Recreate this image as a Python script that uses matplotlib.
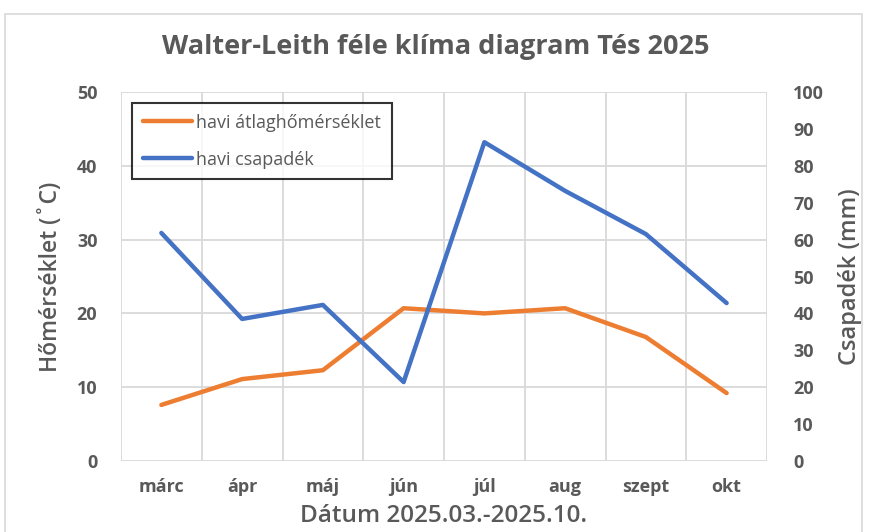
import numpy as np
import matplotlib.pyplot as plt
from matplotlib.patches import Rectangle

# data
honapok = ["márc", "ápr", "máj", "jún", "júl", "aug", "szept", "okt"]
homerseklet = [7.6, 11.1, 12.3, 20.7, 20.0, 20.7, 16.8, 9.2]    # °C
csapadek = [61.8, 38.5, 42.3, 21.4, 86.4, 73.2, 61.5, 42.8]     # mm

plt.rcParams['font.family'] = ['Open Sans', 'DejaVu Sans']
szurke = "#595959"

fig = plt.figure(figsize=(8.72, 5.32), dpi=100)
ax = fig.add_axes([121/872, 1-461/532, 646/872, 369/532])
ax2 = ax.twinx()

# outer chart border
fig.patches.append(Rectangle((5/872, -0.01), 857/872, 1-14/532+0.01,
    transform=fig.transFigure, fill=False, edgecolor="#d9d9d9", lw=1.2))

x = np.arange(len(honapok))
l1, = ax.plot(x, homerseklet, color="#ED7D31", lw=3.2, solid_capstyle="round",
    label="havi átlaghőmérséklet", zorder=3)
l2, = ax2.plot(x, csapadek, color="#4472C4", lw=3.2, solid_capstyle="round",
    label="havi csapadék", zorder=3)

ax.set_xlim(-0.5, len(honapok)-0.5)
ax.set_ylim(0, 50)
ax2.set_ylim(0, 100)
ax.set_yticks(np.arange(0, 51, 10))
ax2.set_yticks(np.arange(0, 101, 10))
ax.set_xticks(x)
ax.set_xticklabels(honapok)

# grid: horizontal at left ticks, vertical between categories
for yv in np.arange(0, 51, 10):
    ax.axhline(yv, color="#d9d9d9", lw=1.3, zorder=0)
for xv in np.arange(-0.5, len(honapok), 1):
    ax.axvline(xv, color="#d9d9d9", lw=1.3, zorder=0)

for a in (ax, ax2):
    for s in a.spines.values():
        s.set_visible(False)
    a.tick_params(length=0, labelsize=13, labelcolor=szurke)
    for lab in a.get_yticklabels() + a.get_xticklabels():
        lab.set_fontweight("bold")
ax.tick_params(axis="x", pad=12)
ax.tick_params(axis="y", pad=17)
ax2.tick_params(axis="y", pad=19)

ax.set_ylabel("Hőmérséklet (˚C)", fontsize=16.5, color=szurke,
    fontweight="semibold", labelpad=10)
ax2.set_ylabel("Csapadék (mm)", fontsize=17, color=szurke,
    fontweight="semibold", labelpad=10)
ax.set_xlabel("Dátum 2025.03.-2025.10.", fontsize=17.5, color=szurke,
    fontweight="semibold", labelpad=6)
fig.text(0.5, 1-47/532, "Walter-Leith féle klíma diagram Tés 2025",
    ha="center", va="center", fontsize=19.5, fontweight="bold", color=szurke)

leg = ax.legend(handles=[l1, l2], loc="upper left", bbox_to_anchor=(0.003, 0.995),
    fontsize=13, frameon=True, fancybox=False, borderpad=0.6, labelspacing=1.05,
    handlelength=2.7, handletextpad=0.25, labelcolor=szurke)
leg.get_frame().set_edgecolor("black")
leg.get_frame().set_linewidth(1.5)
leg.set_zorder(5)

fig.savefig("out.png", dpi=100)
